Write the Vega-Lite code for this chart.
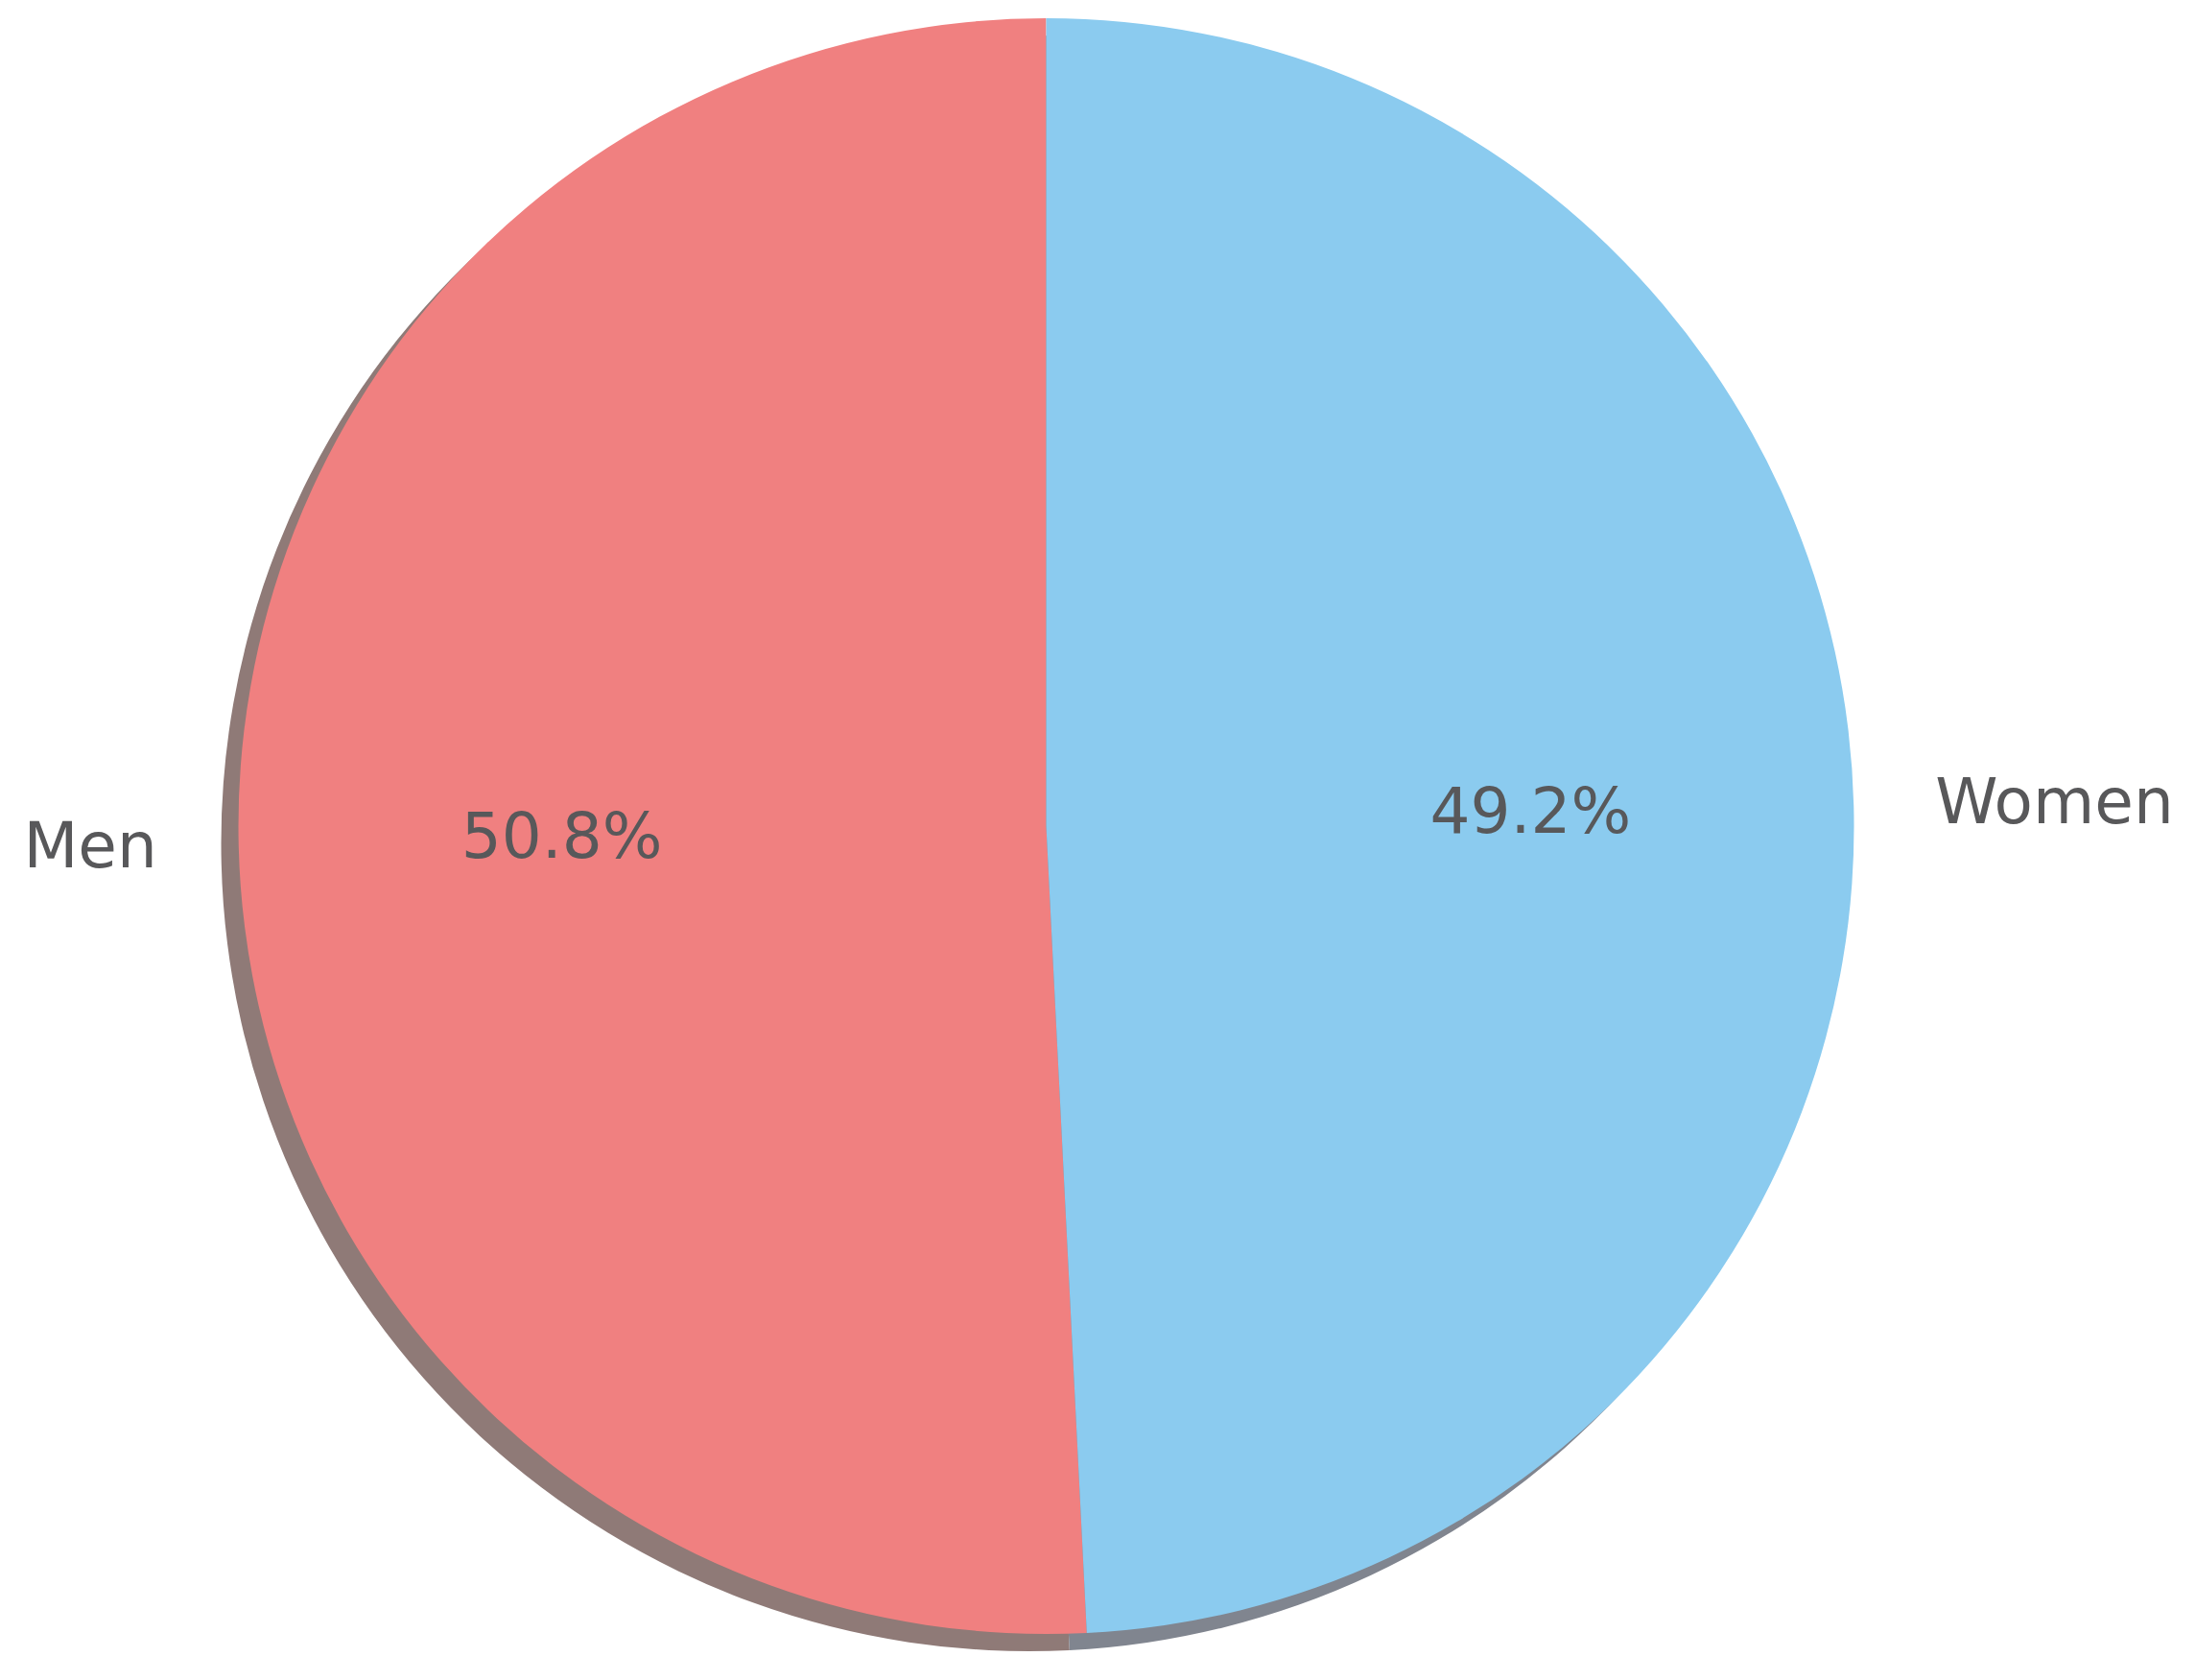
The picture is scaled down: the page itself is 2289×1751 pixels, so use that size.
{
  "$schema": "https://vega.github.io/schema/vega-lite/v6.json",
  "width": 2181,
  "height": 1722,
  "autosize": "none",
  "padding": {"left": 0, "top": 0, "right": 108, "bottom": 29},
  "background": "white",
  "view": {"stroke": null},
  "data": {"values": [
    {"sex": "Men", "share": 0.508},
    {"sex": "Women", "share": 0.492}
  ]},
  "encoding": {
    "theta": {"field": "share", "type": "quantitative", "stack": true},
    "order": {"field": "sex", "sort": "descending"}
  },
  "layer": [
    {
      "mark": {"type": "arc", "radius": 842, "xOffset": -18, "yOffset": 18},
      "encoding": {
        "fill": {"field": "sex", "type": "nominal", "scale": {"domain": ["Men", "Women"], "range": ["#8F7A77", "#80858F"]}, "legend": null}
      }
    },
    {
      "mark": {"type": "arc", "radius": 842},
      "encoding": {
        "color": {"field": "sex", "type": "nominal", "scale": {"domain": ["Men", "Women"], "range": ["#F08080", "#8BCBEF"]}, "legend": null}
      }
    },
    {
      "mark": {"type": "text", "radius": 505, "font": "DejaVu Sans", "fontSize": 66, "color": "#58585A", "align": "center", "baseline": "middle"},
      "encoding": {
        "text": {"field": "share", "type": "quantitative", "format": ".1%"}
      }
    },
    {
      "mark": {"type": "text", "radius": 927, "font": "DejaVu Sans", "fontSize": 66, "color": "#58585A", "align": {"expr": "datum.sex === 'Men' ? 'right' : 'left'"}, "baseline": "middle"},
      "encoding": {
        "text": {"field": "sex", "type": "nominal"}
      }
    }
  ]
}
